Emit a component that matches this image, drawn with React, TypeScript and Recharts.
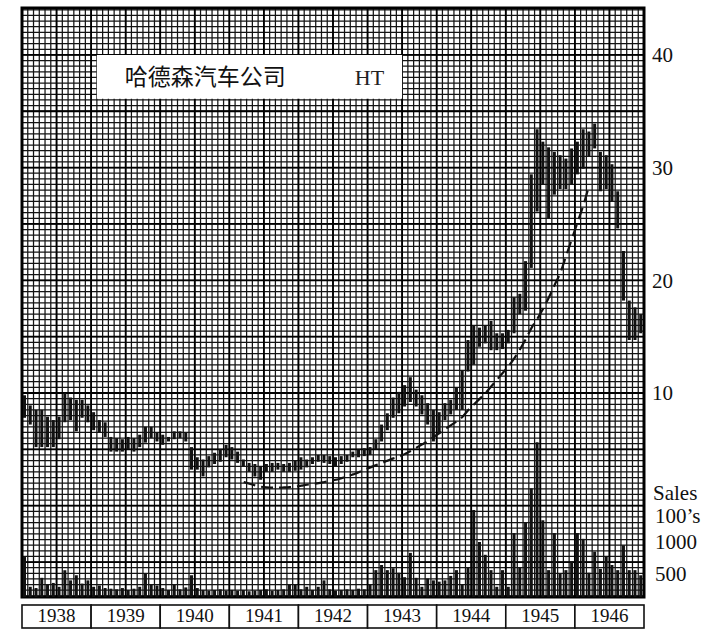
import React from 'react';
import {
  ComposedChart,
  Bar,
  Line,
  XAxis,
  YAxis,
  CartesianGrid,
  ReferenceArea,
  ReferenceLine,
  Label,
} from 'recharts';

const SERIF = "'Liberation Serif', 'DejaVu Serif', 'Times New Roman', serif";
const CJK = "'Noto Sans CJK SC', 'Noto Sans CJK TC', sans-serif";
const INK = '#111';

// Categories
const YEARS = ['1938', '1939', '1940', '1941', '1942', '1943', '1944', '1945', '1946'];
const MONTHS = ['01', '02', '03', '04', '05', '06', '07', '08', '09', '10', '11', '12'];

// Monthly high prices (per year rows)
const HIGH = [
  9.8, 8.9, 8.5, 8.5, 7.9, 7.6, 7.9, 10.0, 9.6, 9.4, 9.4, 8.9,
  8.3, 7.6, 7.4, 6.1, 6.0, 5.9, 6.1, 6.0, 6.3, 7.0, 7.0, 6.5,
  6.3, 6.1, 6.6, 6.6, 6.5, 5.2, 4.3, 4.1, 4.4, 4.7, 5.0, 5.4,
  5.2, 4.8, 4.1, 3.8, 3.7, 3.5, 3.7, 3.8, 3.8, 3.7, 3.8, 4.0,
  4.3, 4.1, 4.3, 4.5, 4.5, 4.4, 4.3, 4.4, 4.5, 4.8, 5.0, 5.1,
  5.2, 5.9, 7.2, 8.2, 9.6, 10.1, 10.7, 11.4, 10.3, 9.8, 9.1, 8.5,
  8.3, 9.1, 9.4, 10.5, 12.0, 14.7, 16.0, 15.8, 16.0, 16.4, 15.3, 15.3,
  15.6, 18.5, 18.8, 21.7, 29.4, 33.4, 32.3, 31.8, 31.4, 31.1, 30.8, 31.7,
  32.3, 33.4, 33.2, 33.9, 31.4, 31.1, 30.3, 27.9, 22.6, 18.2, 17.6, 17.0,
];

// Monthly low prices
const LOW = [
  7.8, 7.2, 5.2, 5.2, 5.2, 5.2, 5.9, 7.4, 7.6, 6.6, 7.8, 7.4,
  6.7, 6.5, 6.1, 4.8, 4.8, 4.8, 5.0, 4.8, 5.2, 5.6, 6.0, 5.7,
  5.4, 5.7, 5.9, 6.0, 5.7, 3.2, 3.2, 2.6, 3.4, 3.7, 3.9, 4.3,
  4.1, 3.8, 3.5, 3.0, 2.6, 2.3, 3.0, 3.0, 3.2, 3.0, 3.0, 3.1,
  3.2, 3.4, 3.7, 3.9, 3.8, 3.7, 3.5, 3.7, 3.9, 4.3, 4.3, 4.4,
  4.5, 5.0, 5.7, 6.7, 7.8, 8.2, 8.8, 9.2, 8.8, 8.1, 7.2, 5.7,
  6.5, 7.6, 8.1, 8.5, 8.5, 11.9, 12.5, 14.1, 14.4, 13.8, 13.8, 13.9,
  14.4, 15.3, 17.0, 17.3, 21.1, 26.1, 28.5, 25.5, 27.6, 28.1, 28.1, 28.5,
  29.4, 29.9, 31.0, 31.7, 27.9, 28.1, 27.0, 24.6, 18.2, 14.7, 14.7, 15.3,
];

// Monthly sales (hundreds of shares)
const VOLUME = [
  765, 300, 280, 440, 330, 360, 300, 560, 400, 480, 350, 400,
  300, 320, 280, 270, 260, 280, 250, 270, 300, 510, 330, 320,
  280, 250, 330, 260, 290, 480, 280, 250, 240, 250, 260, 240,
  250, 240, 250, 230, 240, 250, 260, 240, 250, 260, 330, 340,
  260, 300, 250, 300, 400, 260, 240, 250, 260, 250, 270, 260,
  330, 560, 640, 560, 590, 520, 450, 830, 440, 300, 430, 400,
  380, 400, 470, 560, 330, 600, 1500, 1000, 800, 560, 300, 560,
  300, 1140, 600, 1310, 1840, 2560, 1340, 560, 1140, 500, 560, 700,
  1140, 1050, 520, 850, 580, 780, 640, 560, 950, 560, 560, 480,
];

// Dashed rounding-bottom trend line
const TREND = [
  null, null, null, null, null, null, null, null, null, null, null, null,
  null, null, null, null, null, null, null, null, null, null, null, null,
  null, null, null, null, null, null, null, null, null, null, null, null,
  null, null, 2.1, 1.95, 1.8, 1.68, 1.62, 1.6, 1.6, 1.62, 1.65, 1.7,
  1.78, 1.86, 1.93, 2.0, 2.1, 2.2, 2.3, 2.45, 2.6, 2.78, 2.97, 3.2,
  3.4, 3.6, 3.8, 4.0, 4.2, 4.35, 4.6, 4.85, 5.15, 5.45, 5.75, 6.1,
  6.45, 6.8, 7.15, 7.5, 7.9, 8.5, 9.0, 9.5, 10.0, 10.6, 11.2, 11.8,
  12.4, 13.1, 13.9, 14.8, 15.8, 16.6, 17.5, 18.5, 19.6, 20.7, 22.2, 23.7,
  25.2, 26.7, 28.5, null, null, null, null, null, null, null, null, null,
];

const PRICE_TICKS = [10, 20, 30, 40];
const VOLUME_TICKS = [500, 1000];
const TITLE = '哈德森汽车公司';
const TICKER = 'HT';

const CHART_W = 718;
const CHART_H = 638;
const MARGIN = { top: 8, right: 0, bottom: 0, left: 22 };
const RIGHT_AXIS_W = 74;
const PLOT_W = CHART_W - MARGIN.left - MARGIN.right - RIGHT_AXIS_W;

const PRICE_DOMAIN: [number, number] = [-8.1, 44.16];
const VOLUME_DOMAIN: [number, number] = [140, 9350];
const MONTH_COUNT = YEARS.length * MONTHS.length;

// grid paper line values (month boundaries, half-point price steps)
const GRID_V: number[] = [];
for (let k = 0; k <= MONTH_COUNT; k++) GRID_V.push(k);
const GRID_H: number[] = [];
for (let v = -8; v <= 44; v += 0.5) GRID_H.push(v);
const GRID_V_HEAVY = GRID_V.filter((k) => k % 6 === 0);
const GRID_H_HEAVY = GRID_H.filter((v) => v % 5 === 0);

const monthCoords = (values: number[]) => ({ offset }: any) =>
  values.map((k) => offset.left + (k / MONTH_COUNT) * offset.width);
const priceCoords = (values: number[]) => ({ offset }: any) =>
  values.map(
    (v) => offset.top + ((PRICE_DOMAIN[1] - v) / (PRICE_DOMAIN[1] - PRICE_DOMAIN[0])) * offset.height
  );

const data = YEARS.flatMap((year, yi) =>
  MONTHS.map((m, mi) => {
    const i = yi * MONTHS.length + mi;
    return {
      month: `${year}-${m}`,
      year,
      idx: i + 0.5,
      range: [LOW[i], HIGH[i]],
      volume: VOLUME[i],
      trend: TREND[i],
    };
  })
);

const YearTick = (props: any) => {
  const { x, y, payload } = props;
  const w = PLOT_W / YEARS.length;
  return (
    <g>
      <rect x={x - w / 2} y={y + 8} width={w} height={23} fill="#fff" stroke={INK} strokeWidth={1.6} />
      <text x={x} y={y + 25} textAnchor="middle" fill={INK} fontSize={19} fontFamily={SERIF}>
        {payload.value}
      </text>
    </g>
  );
};

export default function App() {
  return (
    <div style={{ width: CHART_W, height: CHART_H, background: '#fff' }}>
      <style>{'body{margin:0;background:#fff;overflow:hidden}'}</style>
      <ComposedChart width={CHART_W} height={CHART_H} data={data} margin={MARGIN}>
        <XAxis
          xAxisId="year"
          dataKey="year"
          allowDuplicatedCategory={false}
          height={41}
          axisLine={false}
          tickLine={false}
          tickSize={0}
          tickMargin={0}
          interval={0}
          tick={(p: any) => <YearTick {...p} />}
        />
        <XAxis xAxisId="g" orientation="top" height={0} type="number" dataKey="idx" domain={[0, MONTH_COUNT]} hide allowDataOverflow />
        <XAxis xAxisId="m" orientation="top" height={0} dataKey="month" hide />
        <XAxis xAxisId="v" orientation="top" height={0} dataKey="month" hide />
        <YAxis
          yAxisId="p"
          orientation="right"
          width={RIGHT_AXIS_W}
          type="number"
          domain={PRICE_DOMAIN}
          allowDataOverflow
          ticks={PRICE_TICKS}
          axisLine={false}
          tickLine={false}
          tickSize={0}
          tickMargin={8}
          tick={{ fill: INK, fontSize: 21, fontFamily: SERIF }}
        />
        <YAxis yAxisId="vol" orientation="left" width={0} type="number" domain={VOLUME_DOMAIN} allowDataOverflow hide />

        <CartesianGrid
          verticalCoordinatesGenerator={monthCoords(GRID_V)}
          horizontalCoordinatesGenerator={priceCoords(GRID_H)}
          stroke="#141414"
          strokeWidth={1.25}
        />
        <CartesianGrid
          verticalCoordinatesGenerator={monthCoords(GRID_V_HEAVY)}
          horizontalCoordinatesGenerator={priceCoords(GRID_H_HEAVY)}
          stroke="#000"
          strokeWidth={1.8}
        />

        <ReferenceArea
          xAxisId="m"
          yAxisId="p"
          x1="1939-02"
          x2="1943-06"
          y1={36.1}
          y2={40}
          fill="#fff"
          fillOpacity={1}
          stroke="none"
        >
          <Label value={TITLE} position="insideLeft" offset={28} fontSize={23} fontFamily={CJK} fill="#111" />
          <Label value={TICKER} position="insideRight" offset={18} fontSize={22} fontFamily={SERIF} fill="#222" />
        </ReferenceArea>

        <Bar
          xAxisId="v"
          yAxisId="vol"
          dataKey="volume"
          barSize={3}
          fill={INK}
          isAnimationActive={false}
        />
        <Bar
          xAxisId="m"
          yAxisId="p"
          dataKey="range"
          barSize={3}
          fill={INK}
          isAnimationActive={false}
        />
        <Line
          xAxisId="m"
          yAxisId="p"
          dataKey="trend"
          type="monotone"
          stroke="#111"
          strokeWidth={2.2}
          strokeDasharray="12 6"
          dot={false}
          activeDot={false}
          connectNulls={false}
          isAnimationActive={false}
        />

        {VOLUME_TICKS.map((v) => (
          <ReferenceLine
            key={v}
            xAxisId="g"
            yAxisId="vol"
            y={v}
            stroke="none"
            label={{ value: String(v), position: 'right', offset: 11, fill: INK, fontSize: 21, fontFamily: SERIF }}
          />
        ))}
        <ReferenceLine
          xAxisId="g"
          yAxisId="vol"
          y={1766}
          stroke="none"
          label={{ value: 'Sales', position: 'right', offset: 9, fill: INK, fontSize: 21, fontFamily: SERIF }}
        />
        <ReferenceLine
          xAxisId="g"
          yAxisId="vol"
          y={1407}
          stroke="none"
          label={{ value: '100’s', position: 'right', offset: 11, fill: INK, fontSize: 21, fontFamily: SERIF }}
        />

        <ReferenceArea
          xAxisId="g"
          yAxisId="p"
          x1={0}
          x2={MONTH_COUNT}
          y1={PRICE_DOMAIN[0]}
          y2={PRICE_DOMAIN[1]}
          fill="none"
          stroke="#000"
          strokeWidth={3}
        />
      </ComposedChart>
    </div>
  );
}
